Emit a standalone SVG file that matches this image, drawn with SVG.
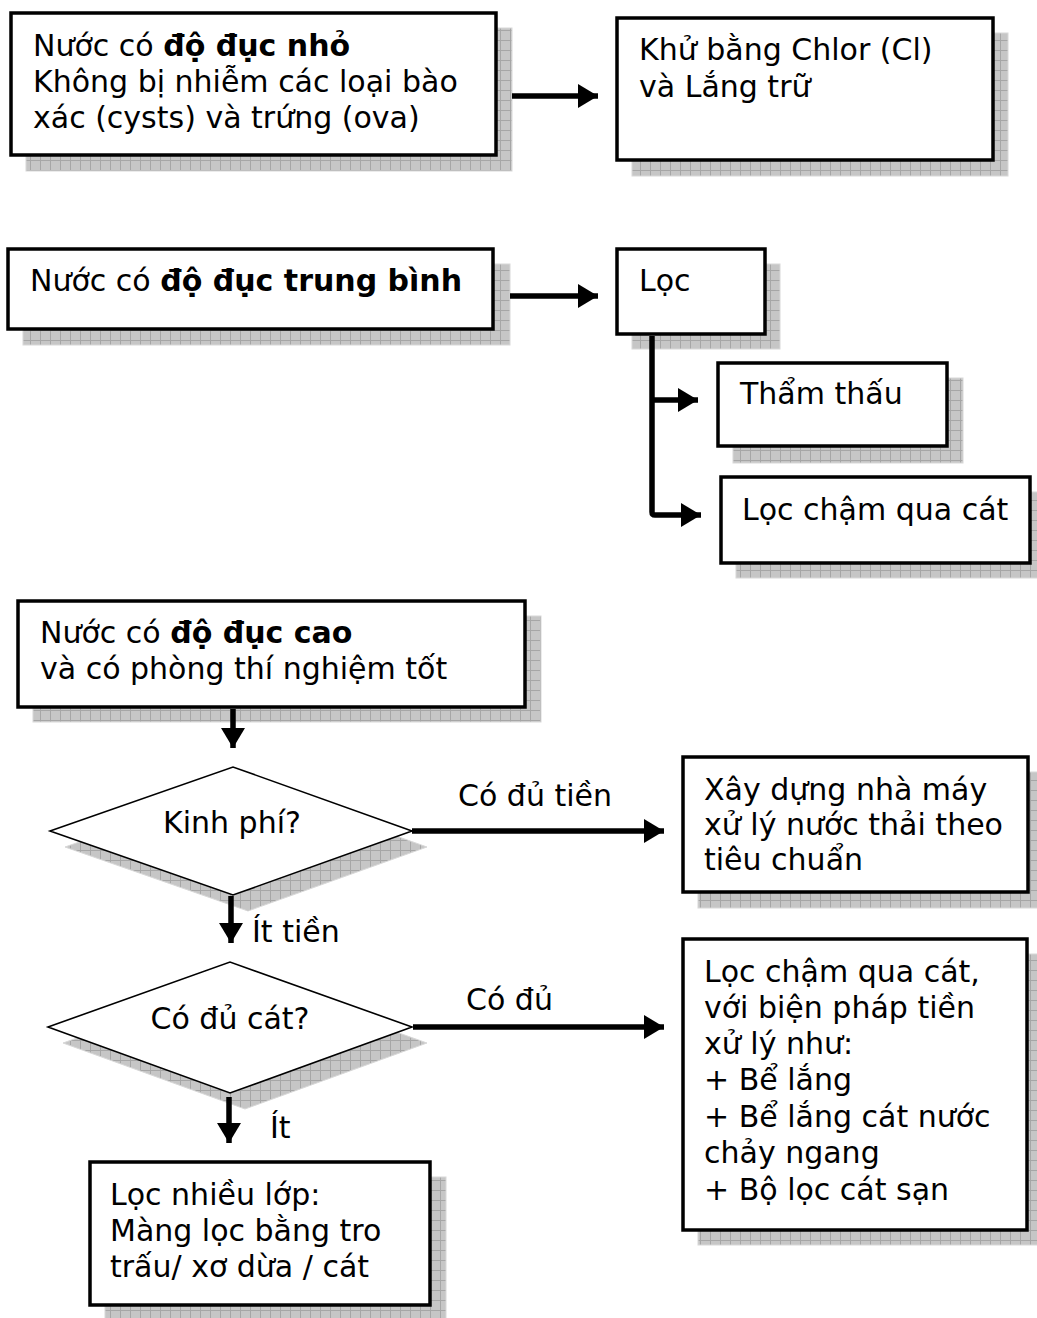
<svg xmlns="http://www.w3.org/2000/svg" width="1037" height="1318" viewBox="0 0 1037 1318">
<style>
.box{fill:#fff;stroke:#000;stroke-width:3.5}
.dia{fill:#fff;stroke:#000;stroke-width:1.6}
.sh{fill:url(#grid);stroke:#d8d8d8;stroke-width:1}
text{font-family:"DejaVu Sans","Verdana",sans-serif;font-size:30px;fill:#000}
.b{font-weight:bold}
.c{stroke:#000;stroke-width:5.5;fill:none}
</style>
<defs>
<pattern id="grid" width="10" height="10" patternUnits="userSpaceOnUse">
<rect width="10" height="10" fill="#c6c6c6"/>
<path d="M0,0.5H10M0.5,0V10" stroke="#a6a6a6" stroke-width="1"/>
</pattern>
<marker id="ah" markerUnits="userSpaceOnUse" markerWidth="22" markerHeight="24" refX="20" refY="12" orient="auto">
<path d="M0,0 L20,12 L0,24 Z" fill="#000"/>
</marker>
</defs>

<g id="n1">
<rect class="sh" x="26" y="28" width="486" height="143"/>
<rect class="box" x="11" y="13" width="485" height="142"/>
<text x="33" y="56">Nước có <tspan class="b">độ đục nhỏ</tspan></text>
<text x="33" y="92">Không bị nhiễm các loại bào</text>
<text x="33" y="128">xác (cysts) và trứng (ova)</text>
</g>

<g id="n2">
<rect class="sh" x="632" y="33" width="376" height="143"/>
<rect class="box" x="617" y="18" width="376" height="142"/>
<text x="639" y="60">Khử bằng Chlor (Cl)</text>
<text x="639" y="97">và Lắng trữ</text>
</g>

<g id="n3">
<rect class="sh" x="23" y="264" width="487" height="81"/>
<rect class="box" x="8" y="249" width="485" height="80"/>
<text x="30" y="291">Nước có <tspan class="b">độ đục trung bình</tspan></text>
</g>

<g id="n4">
<rect class="sh" x="632" y="264" width="148" height="85"/>
<rect class="box" x="617" y="249" width="148" height="85"/>
<text x="639" y="291">Lọc</text>
</g>

<g id="n5">
<rect class="sh" x="733" y="378" width="230" height="85"/>
<rect class="box" x="718" y="363" width="229" height="83"/>
<text x="740" y="404">Thẩm thấu</text>
</g>

<g id="n6">
<rect class="sh" x="736" y="492" width="310" height="86"/>
<rect class="box" x="721" y="477" width="309" height="86"/>
<text x="742" y="520">Lọc chậm qua cát</text>
</g>

<g id="n7">
<rect class="sh" x="33" y="616" width="508" height="106"/>
<rect class="box" x="18" y="601" width="507" height="106"/>
<text x="40" y="643">Nước có <tspan class="b">độ đục cao</tspan></text>
<text x="40" y="679">và có phòng thí nghiệm tốt</text>
</g>

<g id="n8">
<polygon class="sh" points="65,847 248,783 427,847 248,911"/>
<polygon class="dia" points="50,831 233,767 412,831 233,895"/>
<text x="232" y="833" text-anchor="middle">Kinh phí?</text>
</g>

<g id="n9">
<rect class="sh" x="698" y="772" width="340" height="136"/>
<rect class="box" x="683" y="757" width="345" height="135"/>
<text x="704" y="800">Xây dựng nhà máy</text>
<text x="704" y="835">xử lý nước thải theo</text>
<text x="704" y="870">tiêu chuẩn</text>
</g>

<g id="n10">
<polygon class="sh" points="63,1043 245,978 427,1043 245,1109"/>
<polygon class="dia" points="48,1027 230,962 412,1027 230,1093"/>
<text x="230" y="1029" text-anchor="middle">Có đủ cát?</text>
</g>

<g id="n11">
<rect class="sh" x="698" y="954" width="340" height="291"/>
<rect class="box" x="683" y="939" width="344" height="291"/>
<text x="704" y="982">Lọc chậm qua cát,</text>
<text x="704" y="1018">với biện pháp tiền</text>
<text x="704" y="1054">xử lý như:</text>
<text x="704" y="1090">+ Bể lắng</text>
<text x="704" y="1127">+ Bể lắng cát nước</text>
<text x="704" y="1163">chảy ngang</text>
<text x="704" y="1200">+ Bộ lọc cát sạn</text>
</g>

<g id="n12">
<rect class="sh" x="105" y="1177" width="341" height="143"/>
<rect class="box" x="90" y="1162" width="340" height="143"/>
<text x="110" y="1205">Lọc nhiều lớp:</text>
<text x="110" y="1241">Màng lọc bằng tro</text>
<text x="110" y="1277">trấu/ xơ dừa / cát</text>
</g>

<g id="connectors">
<path class="c" d="M512,96 H598" marker-end="url(#ah)"/>
<path class="c" d="M510,296 H598" marker-end="url(#ah)"/>
<path class="c" d="M652,336 V512 Q652,515 655,515 H701" marker-end="url(#ah)"/>
<path class="c" d="M652,400 H698" marker-end="url(#ah)"/>
<path class="c" d="M233,709 V748" marker-end="url(#ah)"/>
<path class="c" d="M412,831 H664" marker-end="url(#ah)"/>
<path class="c" d="M231,896 V943" marker-end="url(#ah)"/>
<path class="c" d="M413,1027 H664" marker-end="url(#ah)"/>
<path class="c" d="M229,1097 V1143" marker-end="url(#ah)"/>
<text x="458" y="806">Có đủ tiền</text>
<text x="252" y="942">Ít tiền</text>
<text x="466" y="1010">Có đủ</text>
<text x="270" y="1138">Ít</text>
</g>
</svg>
